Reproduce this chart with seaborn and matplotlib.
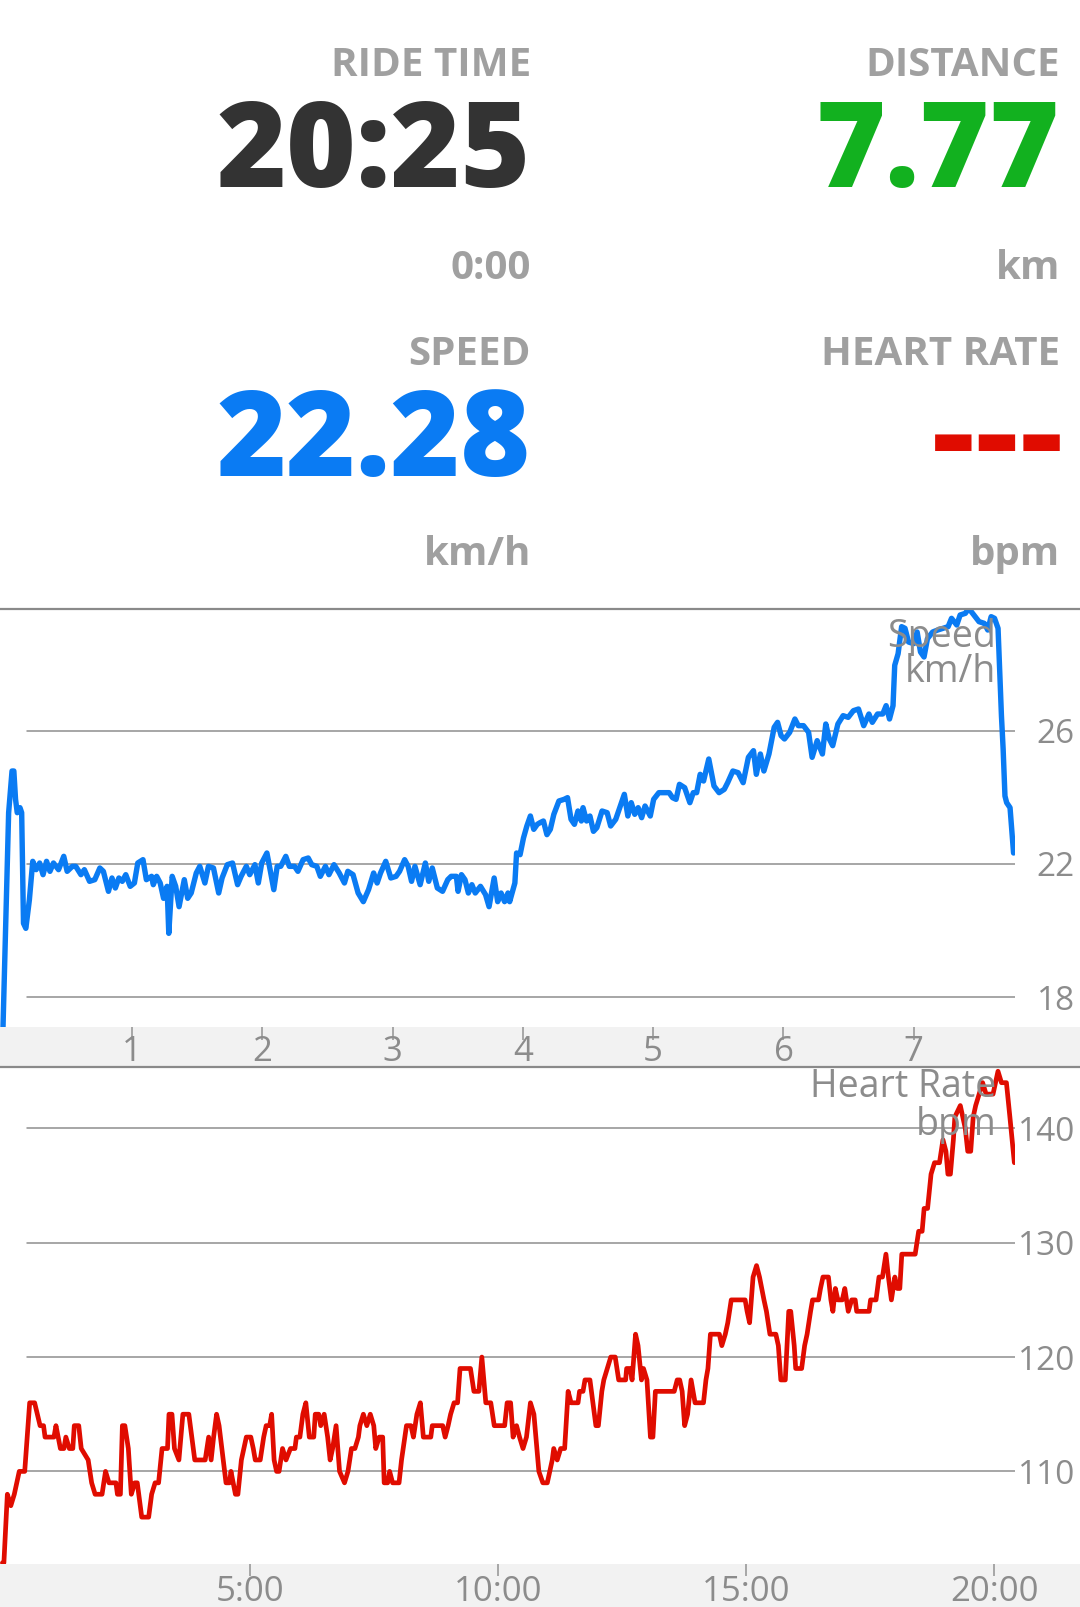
import matplotlib
matplotlib.use("Agg")
import matplotlib.pyplot as plt
import seaborn as sns
import pandas as pd
from matplotlib.lines import Line2D
from matplotlib.patches import Rectangle

# ---------------- data ----------------
ride_time = "20:25"
ride_time_sub = "0:00"
distance = "7.77"
distance_unit = "km"
speed_value = "22.28"
speed_unit = "km/h"
hr_value = "---"
hr_unit = "bpm"

speed_km = [0.000, 0.054, 0.080, 0.094, 0.107, 0.120, 0.141, 0.154, 0.168, 0.186, 0.213, 0.239, 0.265,
            0.292, 0.318, 0.345, 0.371, 0.398, 0.437, 0.477, 0.503, 0.543, 0.569, 0.609, 0.635, 0.675,
            0.715, 0.754, 0.781, 0.820, 0.847, 0.873, 0.900, 0.926, 0.953, 0.987, 1.019, 1.045, 1.085,
            1.111, 1.151, 1.164, 1.190, 1.217, 1.243, 1.270, 1.283, 1.309, 1.336, 1.362, 1.402, 1.428,
            1.455, 1.494, 1.521, 1.560, 1.587, 1.626, 1.666, 1.692, 1.732, 1.772, 1.811, 1.838, 1.878,
            1.904, 1.944, 1.970, 1.996, 2.036, 2.063, 2.089, 2.115, 2.142, 2.181, 2.208, 2.248, 2.274,
            2.314, 2.353, 2.380, 2.419, 2.446, 2.485, 2.512, 2.551, 2.591, 2.631, 2.657, 2.697, 2.736,
            2.776, 2.816, 2.855, 2.882, 2.908, 2.948, 2.987, 3.027, 3.054, 3.093, 3.120, 3.146, 3.172,
            3.212, 3.252, 3.278, 3.305, 3.344, 3.384, 3.424, 3.450, 3.490, 3.503, 3.529, 3.556, 3.582,
            3.609, 3.635, 3.675, 3.714, 3.741, 3.780, 3.807, 3.833, 3.860, 3.886, 3.899, 3.939, 3.952,
            3.979, 4.005, 4.031, 4.058, 4.084, 4.111, 4.132, 4.158, 4.185, 4.211, 4.238, 4.277, 4.317,
            4.343, 4.370, 4.396, 4.423, 4.449, 4.462, 4.489, 4.515, 4.542, 4.568, 4.608, 4.647, 4.674,
            4.713, 4.753, 4.779, 4.806, 4.832, 4.859, 4.885, 4.912, 4.938, 4.978, 5.004, 5.044, 5.083,
            5.123, 5.149, 5.176, 5.202, 5.242, 5.282, 5.308, 5.334, 5.361, 5.387, 5.427, 5.467, 5.506,
            5.546, 5.572, 5.612, 5.652, 5.691, 5.731, 5.770, 5.792, 5.823, 5.850, 5.889, 5.929, 5.955,
            5.982, 6.008, 6.048, 6.088, 6.114, 6.154, 6.193, 6.220, 6.259, 6.299, 6.325, 6.352, 6.378,
            6.418, 6.458, 6.497, 6.537, 6.576, 6.616, 6.656, 6.682, 6.722, 6.762, 6.788, 6.814, 6.841,
            6.854, 6.880, 6.907, 6.933, 6.960, 6.999, 7.026, 7.052, 7.079, 7.105, 7.145, 7.184, 7.224,
            7.264, 7.290, 7.330, 7.356, 7.396, 7.422, 7.462, 7.501, 7.541, 7.568, 7.594, 7.620, 7.647,
            7.673, 7.686, 7.700, 7.713, 7.739, 7.766]
speed_kmh = [15.50, 23.54, 24.79, 24.79, 23.94, 23.54, 23.69, 23.54, 20.22, 20.07, 20.92, 22.08, 21.83,
             22.03, 21.68, 22.08, 21.78, 22.03, 21.83, 22.23, 21.78, 21.93, 21.93, 21.68, 21.83, 21.48,
             21.53, 21.88, 21.78, 21.18, 21.58, 21.28, 21.58, 21.48, 21.68, 21.33, 21.43, 22.03, 22.13,
             21.53, 21.63, 21.38, 21.63, 21.43, 20.97, 21.33, 19.92, 21.63, 21.33, 20.72, 21.53, 20.97,
             21.13, 21.73, 21.93, 21.43, 21.93, 21.88, 21.13, 21.58, 21.98, 22.03, 21.38, 21.63, 21.93,
             21.68, 21.98, 21.43, 22.03, 22.33, 21.78, 21.23, 21.93, 21.93, 22.23, 21.93, 21.93, 21.78,
             22.13, 22.18, 21.98, 21.93, 21.63, 21.93, 21.68, 21.98, 21.73, 21.43, 21.78, 21.68, 21.13,
             20.87, 21.23, 21.73, 21.43, 21.73, 22.08, 21.58, 21.63, 21.78, 22.13, 21.93, 21.48, 21.93,
             21.38, 22.03, 21.48, 21.88, 21.28, 21.18, 21.53, 21.63, 21.63, 21.18, 21.68, 21.53, 21.13,
             21.38, 21.13, 21.33, 21.08, 20.72, 21.58, 20.87, 21.13, 20.87, 21.13, 20.87, 21.43, 22.33,
             22.28, 22.78, 23.14, 23.44, 23.04, 23.19, 23.24, 23.29, 22.88, 23.04, 23.49, 23.89, 23.94,
             23.99, 23.34, 23.19, 23.59, 23.29, 23.69, 23.29, 23.44, 22.98, 23.09, 23.59, 23.54, 23.14,
             23.34, 23.79, 24.09, 23.44, 23.84, 23.49, 23.69, 23.39, 23.74, 23.44, 23.94, 24.14, 24.14,
             24.14, 23.99, 23.94, 24.39, 24.29, 23.84, 24.14, 24.14, 24.69, 24.49, 25.15, 24.34, 24.14,
             24.24, 24.44, 24.79, 24.74, 24.44, 25.20, 25.40, 24.69, 25.30, 24.79, 25.30, 26.10, 26.25,
             25.85, 25.75, 25.95, 26.35, 26.15, 26.15, 25.95, 25.20, 25.70, 25.30, 26.20, 25.75, 25.55,
             26.20, 26.45, 26.40, 26.60, 26.65, 26.15, 26.50, 26.25, 26.50, 26.50, 26.75, 26.35, 26.75,
             27.96, 28.31, 29.12, 29.07, 28.66, 28.61, 28.96, 28.36, 28.21, 28.76, 28.96, 29.02, 29.07,
             29.12, 29.37, 29.17, 29.47, 29.52, 29.67, 29.47, 29.27, 29.22, 29.02, 29.42, 29.37, 29.07,
             26.45, 25.45, 24.04, 23.84, 23.69, 22.33]

hr_min = [0.00, 0.03, 0.10, 0.17, 0.24, 0.34, 0.45, 0.55, 0.65, 0.76, 0.83, 0.86, 1.04, 1.08, 1.17, 1.24,
          1.28, 1.35, 1.42, 1.45, 1.54, 1.59, 1.73, 1.80, 1.87, 2.01, 2.08, 2.15, 2.29, 2.32, 2.38, 2.42,
          2.47, 2.54, 2.60, 2.67, 2.72, 2.81, 2.95, 3.01, 3.08, 3.15, 3.22, 3.33, 3.36, 3.42, 3.47, 3.56,
          3.64, 3.76, 3.88, 4.09, 4.16, 4.21, 4.26, 4.32, 4.37, 4.51, 4.58, 4.61, 4.70, 4.75, 4.82, 4.92,
          5.01, 5.06, 5.10, 5.20, 5.27, 5.32, 5.39, 5.43, 5.48, 5.53, 5.58, 5.65, 5.72, 5.81, 5.90, 5.93,
          6.00, 6.06, 6.12, 6.19, 6.28, 6.31, 6.38, 6.42, 6.49, 6.56, 6.61, 6.66, 6.73, 6.80, 6.90, 6.97,
          7.04, 7.11, 7.18, 7.21, 7.28, 7.35, 7.42, 7.49, 7.53, 7.60, 7.67, 7.70, 7.77, 7.81, 7.87, 8.00,
          8.05, 8.15, 8.24, 8.29, 8.36, 8.43, 8.49, 8.64, 8.67, 8.88, 8.93, 8.99, 9.04, 9.11, 9.18, 9.23,
          9.44, 9.51, 9.61, 9.67, 9.75, 9.85, 9.92, 10.13, 10.18, 10.25, 10.30, 10.37, 10.43, 10.50,
          10.57, 10.65, 10.72, 10.82, 10.90, 10.99, 11.09, 11.12, 11.19, 11.26, 11.34, 11.41, 11.47,
          11.61, 11.64, 11.71, 11.75, 11.85, 11.88, 11.97, 12.02, 12.09, 12.13, 12.20, 12.27, 12.36,
          12.43, 12.57, 12.59, 12.66, 12.70, 12.77, 12.82, 12.89, 12.93, 13.00, 13.07, 13.12, 13.17,
          13.55, 13.61, 13.66, 13.71, 13.76, 13.82, 13.89, 13.93, 13.97, 14.14, 14.19, 14.23, 14.28,
          14.46, 14.51, 14.58, 14.63, 14.70, 14.98, 15.02, 15.07, 15.14, 15.21, 15.27, 15.36, 15.41,
          15.48, 15.60, 15.65, 15.70, 15.79, 15.86, 15.90, 15.97, 16.00, 16.12, 16.18, 16.23, 16.30,
          16.34, 16.46, 16.50, 16.55, 16.66, 16.71, 16.75, 16.80, 16.85, 16.94, 16.99, 17.06, 17.13,
          17.20, 17.23, 17.48, 17.51, 17.62, 17.68, 17.75, 17.82, 17.87, 17.93, 18.00, 18.05, 18.10,
          18.14, 18.41, 18.48, 18.55, 18.59, 18.66, 18.73, 18.80, 18.90, 18.97, 19.03, 19.07, 19.12,
          19.18, 19.21, 19.32, 19.37, 19.42, 19.47, 19.53, 19.58, 19.63, 19.70, 19.77, 19.84, 19.98,
          20.03, 20.08, 20.15, 20.25, 20.32, 20.41]
hr_bpm = [102, 102, 108, 107, 108, 110, 110, 116, 116, 114, 114, 113, 113, 114, 112, 112,
          113, 112, 112, 114, 114, 112, 111, 109, 108, 108, 110, 109, 109, 108, 108, 114,
          114, 112, 108, 109, 109, 106, 106, 108, 109, 109, 112, 112, 115, 115, 112, 111,
          115, 115, 111, 111, 113, 111, 113, 115, 114, 109, 109, 110, 108, 108, 111, 113,
          113, 112, 111, 111, 113, 114, 114, 115, 111, 110, 110, 112, 111, 112, 112, 113,
          113, 115, 116, 113, 113, 115, 115, 114, 115, 113, 111, 112, 114, 110, 109, 110,
          112, 112, 113, 114, 115, 114, 115, 114, 112, 113, 113, 109, 109, 110, 109, 109,
          111, 114, 114, 113, 115, 116, 113, 113, 114, 114, 113, 114, 115, 116, 116, 119,
          119, 117, 117, 120, 116, 116, 114, 114, 116, 116, 113, 114, 113, 112,
          113, 116, 115, 110, 109, 109, 111, 112, 111, 112, 112, 117, 116,
          116, 117, 117, 118, 118, 117, 114, 114, 117, 118, 119, 120, 120,
          118, 118, 119, 119, 118, 122, 121, 118, 119, 118, 113, 113, 117,
          117, 118, 118, 117, 114, 115, 118, 117, 116, 116, 118, 119, 122,
          122, 121, 122, 123, 125, 125, 124, 123, 127, 128, 127, 125, 124,
          122, 122, 121, 118, 118, 124, 124, 121, 119, 119, 121, 122, 124,
          125, 125, 126, 127, 127, 125, 124, 126, 125, 125, 126, 124, 125,
          125, 124, 124, 125, 125, 127, 127, 129, 127, 125, 127, 126, 126,
          129, 129, 131, 131, 133, 133, 136, 137, 137, 139, 138, 136, 136,
          139, 141, 142, 141, 140, 138, 138, 141, 142, 143, 144, 143, 143,
          144, 145, 144, 144, 141, 137]

speed_ticks = [18, 22, 26]
hr_ticks = [110, 120, 130, 140]
km_ticks = [1, 2, 3, 4, 5, 6, 7]
km_labels = ["1", "2", "3", "4", "5", "6", "7"]
time_ticks = [5, 10, 15, 20]
time_labels = ["5:00", "10:00", "15:00", "20:00"]

# ---------------- style ----------------
sns.set_theme(style="white")
plt.rcParams['font.family'] = ['Open Sans', 'DejaVu Sans']

GRAY_HDR = "#A0A0A0"
GRAY_AX = "#8C8C8C"
BLUE = "#0A7BF3"
GREEN = "#12B11F"
RED = "#E00C00"
DARK = "#333333"

W, H = 1080, 1607
fig = plt.figure(figsize=(W / 100, H / 100), dpi=100)
fig.patch.set_facecolor("white")


def fx(px):
    return px / W


def fy(py):
    return 1 - py / H


# ---------------- header ----------------
def htext(x, y, s, size, color, weight="bold"):
    fig.text(fx(x), fy(y), s, ha="right", va="baseline", fontsize=size,
             color=color, fontweight=weight)


htext(531, 76, "RIDE TIME", 29, GRAY_HDR)
htext(531, 187, ride_time, 86, DARK, "heavy")
htext(531, 279, ride_time_sub, 29, GRAY_HDR)
htext(531, 365, "SPEED", 29, GRAY_HDR)
htext(531, 476, speed_value, 86, BLUE, "heavy")
htext(531, 565, speed_unit, 29, GRAY_HDR)

htext(1060, 76, "DISTANCE", 29, GRAY_HDR)
htext(1060, 187, distance, 86, GREEN, "heavy")
htext(1060, 279, distance_unit, 29, GRAY_HDR)
htext(1060, 365, "HEART RATE", 29, GRAY_HDR)
htext(1065, 480, hr_value, 100, RED)
htext(1060, 565, hr_unit, 29, GRAY_HDR)

# ---------------- bands & separators ----------------
fig.add_artist(Rectangle((0, fy(1067)), 1, (1067 - 1027) / H, transform=fig.transFigure,
                         facecolor="#F2F2F2", edgecolor="none", zorder=-1))
fig.add_artist(Rectangle((0, 0), 1, (1607 - 1564) / H, transform=fig.transFigure,
                         facecolor="#F2F2F2", edgecolor="none", zorder=-1))
for yy in (609, 1067):
    fig.add_artist(Line2D([0, 1], [fy(yy), fy(yy)], transform=fig.transFigure,
                          color="#8A8A8A", lw=1.6, zorder=5))

AX_R = 1014.6


def style_axis(ax, yticks, xticks, xlabels, tick_len, xpad):
    for sp in ax.spines.values():
        sp.set_visible(False)
    ax.set_facecolor("none")
    ax.grid(False)
    gx0 = 27 / AX_R
    for v in yticks:
        ax.axhline(v, xmin=gx0, xmax=1, color="#8E8E8E", lw=1.1, zorder=0)
    ax.yaxis.tick_right()
    ax.set_yticks(yticks)
    ax.set_yticklabels([str(v) for v in yticks])
    ax.tick_params(axis="y", length=0, pad=(1075 - AX_R) * 0.72, labelsize=24,
                   labelcolor=GRAY_AX)
    for lbl in ax.get_yticklabels():
        lbl.set_horizontalalignment("right")
    ax.set_xticks(xticks)
    ax.set_xticklabels(xlabels)
    ax.tick_params(axis="x", direction="out", length=tick_len, width=1.2, color="#9A9A9A",
                   pad=xpad, labelsize=25, labelcolor=GRAY_AX, bottom=True)
    ax.set_xlabel("")
    ax.set_ylabel("")


# ---------------- speed chart ----------------
ax_s = fig.add_axes([0, fy(1027), AX_R / W, (1027 - 609) / H])
df_s = pd.DataFrame({"km": speed_km, "speed": speed_kmh})
sns.lineplot(data=df_s, x="km", y="speed", ax=ax_s, color=BLUE, lw=3.9,
             sort=False, estimator=None, zorder=3)
ax_s.set_xlim(-0.0123, 7.774)
ax_s.set_ylim(17.11, 29.65)
style_axis(ax_s, speed_ticks, km_ticks, km_labels, 9.4, -3.5)
fig.text(fx(996), fy(647), "Speed", ha="right", va="baseline", fontsize=27, color=GRAY_AX, zorder=6)
fig.text(fx(996), fy(682), "km/h", ha="right", va="baseline", fontsize=27, color=GRAY_AX, zorder=6)

# ---------------- heart rate chart ----------------
ax_h = fig.add_axes([0, fy(1564), AX_R / W, (1564 - 1067.7) / H])
df_h = pd.DataFrame({"t": hr_min, "hr": hr_bpm})
sns.lineplot(data=df_h, x="t", y="hr", ax=ax_h, color=RED, lw=3.4,
             sort=False, estimator=None, zorder=3)
ax_h.set_xlim(-0.0484, 20.415)
ax_h.set_ylim(101.90, 145.31)
style_axis(ax_h, hr_ticks, time_ticks, time_labels, 8.6, -1.0)
fig.text(fx(996), fy(1096.6), "Heart Rate", ha="right", va="baseline", fontsize=27, color=GRAY_AX, zorder=6)
fig.text(fx(996), fy(1135), "bpm", ha="right", va="baseline", fontsize=27, color=GRAY_AX, zorder=6)

fig.savefig("out.png", dpi=100, facecolor="white")
